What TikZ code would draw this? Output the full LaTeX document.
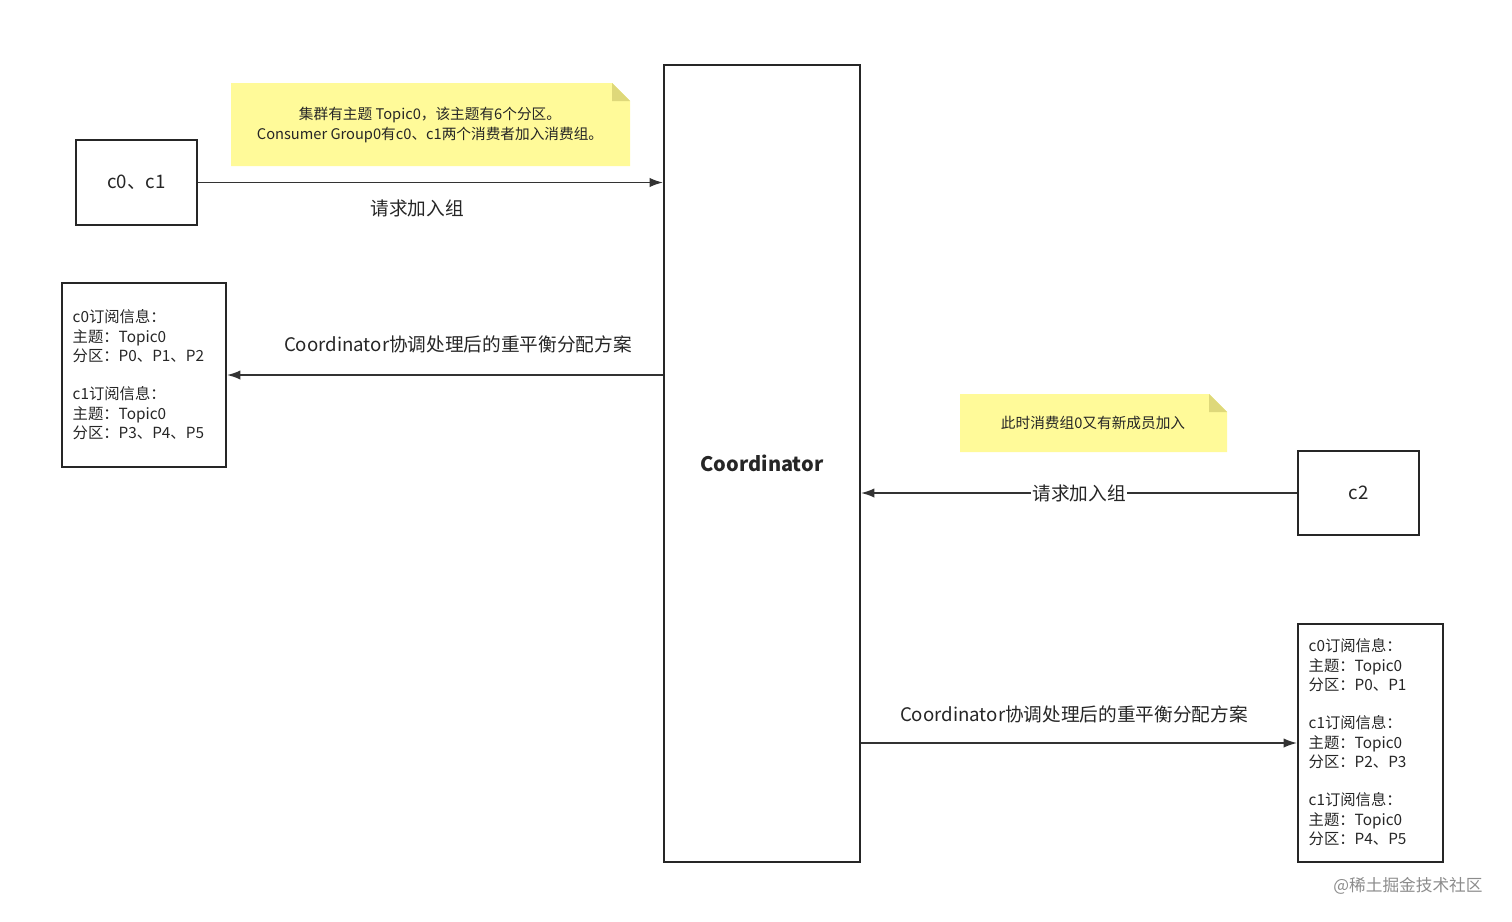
\documentclass[tikz,border=0pt]{standalone}
\usepackage{fontspec}
\setmainfont{Noto Sans CJK SC}
\usetikzlibrary{arrows.meta}
\begin{document}
\begin{tikzpicture}[x=0.75pt,y=-0.75pt,
  box/.style={draw=black!85,line width=1.6pt,inner sep=0pt},
  arr/.style={-{Latex[length=10pt,width=7pt]},line width=1.1pt,draw=black!80},
  lbl/.style={font=\fontsize{14}{16}\selectfont,text=black!85},
  info/.style={font=\fontsize{11.5}{14.6}\selectfont,align=left,anchor=north west,text=black!85},
  notetxt/.style={font=\fontsize{11}{14.5}\selectfont,align=center,text=black!85}]
\useasboundingbox (0,0) rectangle (1512,921);
% notes
\fill[yellow!40!white] (231,83) -- (612,83) -- (630,101) -- (630,166) -- (231,166) -- cycle;
\fill[black!25!yellow!60!white] (612,83) -- (630,101) -- (612,101) -- cycle;
\node[notetxt] (n1) at (430,125) {集群有主题 Topic0，该主题有6个分区。\\Consumer Group0有c0、c1两个消费者加入消费组。};
\fill[yellow!40!white] (960,394) -- (1209,394) -- (1227,412) -- (1227,452) -- (960,452) -- cycle;
\fill[black!25!yellow!60!white] (1209,394) -- (1227,412) -- (1209,412) -- cycle;
\node[notetxt] (n2) at (1093,423) {此时消费组0又有新成员加入};
% boxes
\node[box,minimum width=121*0.75pt,minimum height=85*0.75pt,lbl] (c01) at (136.5,182.5) {c0、c1};
\node[box,minimum width=196*0.75pt,minimum height=797*0.75pt,font=\fontsize{15}{18}\selectfont\bfseries,text=black!85] (coord) at (762,463.5) {Coordinator};
\node[box,minimum width=121*0.75pt,minimum height=84*0.75pt,lbl] (c2) at (1358.5,493) {c2};
\node[box,minimum width=164*0.75pt,minimum height=184*0.75pt] (b2) at (144,375) {};
\node[box,minimum width=145*0.75pt,minimum height=238*0.75pt] (b3) at (1370.5,743) {};
\node[info] (t2) at (68,305) {c0订阅信息：\\主题：Topic0\\分区：P0、P1、P2\\[14pt]c1订阅信息：\\主题：Topic0\\分区：P3、P4、P5};
\node[info] (t3) at (1304,634) {c0订阅信息：\\主题：Topic0\\分区：P0、P1\\[14pt]c1订阅信息：\\主题：Topic0\\分区：P2、P3\\[14pt]c1订阅信息：\\主题：Topic0\\分区：P4、P5};
% arrows
\draw[arr] (c01.east) -- (coord.west |- c01.east);
\node[lbl] (l1) at (417,208) {请求加入组};
\draw[arr] (coord.west |- b2.east) -- (b2.east);
\node[lbl] (l2) at (458,344) {Coordinator协调处理后的重平衡分配方案};
\draw[arr] (c2.west) -- node[lbl,fill=white,inner sep=1pt] (l3) {请求加入组} (coord.east |- c2.west);
\draw[arr] (coord.east |- b3.west) -- (b3.west);
\node[lbl] (l4) at (1074,714) {Coordinator协调处理后的重平衡分配方案};
\node[font=\fontsize{12.5}{14}\selectfont,text=black!45] (wm) at (1408,886) {@稀土掘金技术社区};
\end{tikzpicture}
\end{document}
